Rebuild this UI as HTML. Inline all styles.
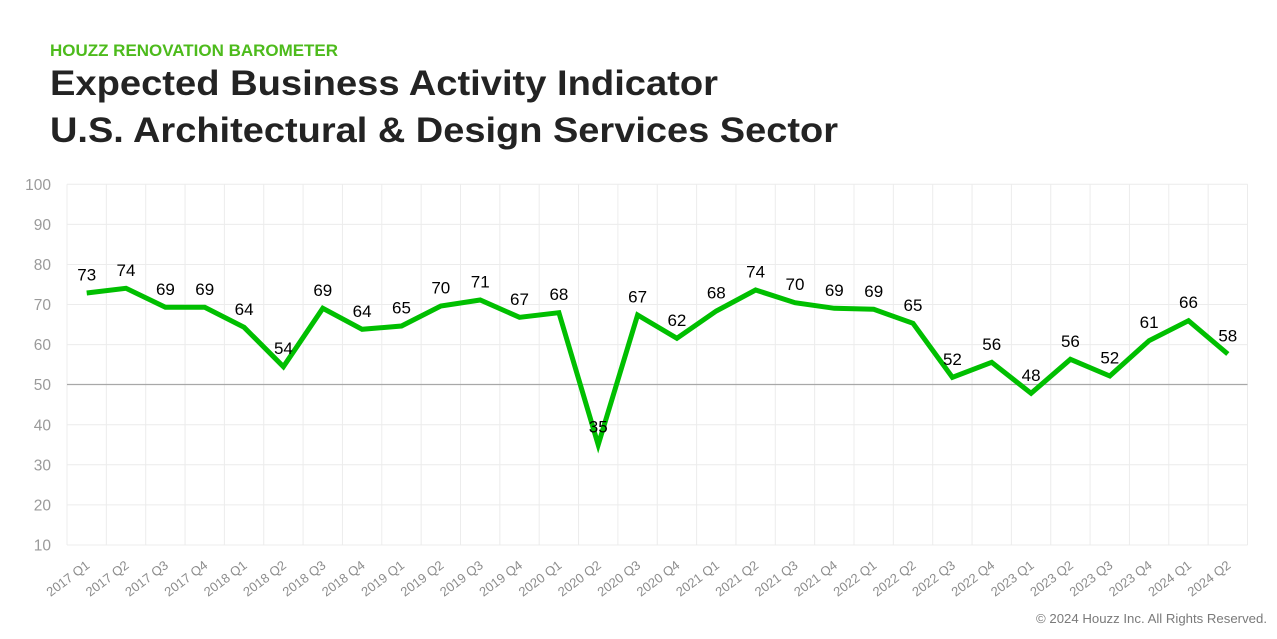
<!DOCTYPE html>
<html><head><meta charset="utf-8"><style>
html,body{margin:0;padding:0;background:#fff;}
svg{display:block;font-family:"Liberation Sans",sans-serif;}
</style></head><body>
<svg width="1277" height="639" viewBox="0 0 1277 639" xmlns="http://www.w3.org/2000/svg">
<rect width="1277" height="639" fill="#fff"/>
<text x="50" y="56" font-size="16.5" font-weight="bold" fill="#4dbb1c" textLength="288" lengthAdjust="spacingAndGlyphs">HOUZZ RENOVATION BAROMETER</text>
<text x="50" y="95" font-size="35" font-weight="bold" fill="#232323" textLength="668" lengthAdjust="spacingAndGlyphs">Expected Business Activity Indicator</text>
<text x="50" y="142" font-size="35" font-weight="bold" fill="#232323" textLength="788" lengthAdjust="spacingAndGlyphs">U.S. Architectural &amp; Design Services Sector</text>
<g stroke="#ececec" stroke-width="1">
<line x1="67" x2="1247.5" y1="545" y2="545"/>
<line x1="67" x2="1247.5" y1="504.9" y2="504.9"/>
<line x1="67" x2="1247.5" y1="464.8" y2="464.8"/>
<line x1="67" x2="1247.5" y1="424.8" y2="424.8"/>
<line x1="67" x2="1247.5" y1="344.6" y2="344.6"/>
<line x1="67" x2="1247.5" y1="304.5" y2="304.5"/>
<line x1="67" x2="1247.5" y1="264.5" y2="264.5"/>
<line x1="67" x2="1247.5" y1="224.4" y2="224.4"/>
<line x1="67" x2="1247.5" y1="184.3" y2="184.3"/>
<line x1="67" x2="67" y1="184.3" y2="545"/>
<line x1="106.35" x2="106.35" y1="184.3" y2="545"/>
<line x1="145.7" x2="145.7" y1="184.3" y2="545"/>
<line x1="185.05" x2="185.05" y1="184.3" y2="545"/>
<line x1="224.4" x2="224.4" y1="184.3" y2="545"/>
<line x1="263.75" x2="263.75" y1="184.3" y2="545"/>
<line x1="303.1" x2="303.1" y1="184.3" y2="545"/>
<line x1="342.45" x2="342.45" y1="184.3" y2="545"/>
<line x1="381.8" x2="381.8" y1="184.3" y2="545"/>
<line x1="421.15" x2="421.15" y1="184.3" y2="545"/>
<line x1="460.5" x2="460.5" y1="184.3" y2="545"/>
<line x1="499.85" x2="499.85" y1="184.3" y2="545"/>
<line x1="539.2" x2="539.2" y1="184.3" y2="545"/>
<line x1="578.55" x2="578.55" y1="184.3" y2="545"/>
<line x1="617.9" x2="617.9" y1="184.3" y2="545"/>
<line x1="657.25" x2="657.25" y1="184.3" y2="545"/>
<line x1="696.6" x2="696.6" y1="184.3" y2="545"/>
<line x1="735.95" x2="735.95" y1="184.3" y2="545"/>
<line x1="775.3" x2="775.3" y1="184.3" y2="545"/>
<line x1="814.65" x2="814.65" y1="184.3" y2="545"/>
<line x1="854" x2="854" y1="184.3" y2="545"/>
<line x1="893.35" x2="893.35" y1="184.3" y2="545"/>
<line x1="932.7" x2="932.7" y1="184.3" y2="545"/>
<line x1="972.05" x2="972.05" y1="184.3" y2="545"/>
<line x1="1011.4" x2="1011.4" y1="184.3" y2="545"/>
<line x1="1050.75" x2="1050.75" y1="184.3" y2="545"/>
<line x1="1090.1" x2="1090.1" y1="184.3" y2="545"/>
<line x1="1129.45" x2="1129.45" y1="184.3" y2="545"/>
<line x1="1168.8" x2="1168.8" y1="184.3" y2="545"/>
<line x1="1208.15" x2="1208.15" y1="184.3" y2="545"/>
<line x1="1247.5" x2="1247.5" y1="184.3" y2="545"/>
</g>
<line x1="67" x2="1247.5" y1="384.5" y2="384.5" stroke="#a8a8a8" stroke-width="1.2"/>
<g font-size="15.5" fill="#9a9a9a" text-anchor="end">
<text x="51" y="550.5">10</text>
<text x="51" y="510.4">20</text>
<text x="51" y="470.3">30</text>
<text x="51" y="430.3">40</text>
<text x="51" y="390.2">50</text>
<text x="51" y="350.1">60</text>
<text x="51" y="310">70</text>
<text x="51" y="270">80</text>
<text x="51" y="229.9">90</text>
<text x="51" y="189.8">100</text>
</g>
<polyline fill="none" stroke="#00bf00" stroke-width="5" stroke-linejoin="miter" stroke-miterlimit="10" points="86.7,293 126,288.3 165.4,307.3 204.7,307.3 244.1,327.3 283.4,366.7 322.8,308.3 362.1,329.3 401.5,326 440.8,306 480.2,300 519.5,317.3 558.9,312.7 598.2,444.8 637.6,315 676.9,338.3 716.3,311 755.6,290 795,302.7 834.3,308.3 873.7,309.3 913,323.3 952.4,377.3 991.7,362.3 1031.1,393.3 1070.4,359.3 1109.8,376 1149.1,340.7 1188.5,320.7 1227.8,354"/>
<g font-size="17" fill="#000" text-anchor="middle">
<text x="86.7" y="280.5">73</text>
<text x="126" y="275.8">74</text>
<text x="165.4" y="294.8">69</text>
<text x="204.7" y="294.8">69</text>
<text x="244.1" y="314.8">64</text>
<text x="283.4" y="354.2">54</text>
<text x="322.8" y="295.8">69</text>
<text x="362.1" y="316.8">64</text>
<text x="401.5" y="313.5">65</text>
<text x="440.8" y="293.5">70</text>
<text x="480.2" y="287.5">71</text>
<text x="519.5" y="304.8">67</text>
<text x="558.9" y="300.2">68</text>
<text x="598.2" y="432.3">35</text>
<text x="637.6" y="302.5">67</text>
<text x="676.9" y="325.8">62</text>
<text x="716.3" y="298.5">68</text>
<text x="755.6" y="277.5">74</text>
<text x="795" y="290.2">70</text>
<text x="834.3" y="295.8">69</text>
<text x="873.7" y="296.8">69</text>
<text x="913" y="310.8">65</text>
<text x="952.4" y="364.8">52</text>
<text x="991.7" y="349.8">56</text>
<text x="1031.1" y="380.8">48</text>
<text x="1070.4" y="346.8">56</text>
<text x="1109.8" y="363.5">52</text>
<text x="1149.1" y="328.2">61</text>
<text x="1188.5" y="308.2">66</text>
<text x="1227.8" y="341.5">58</text>
</g>
<g font-size="13" fill="#8c8c8c" text-anchor="end">
<text transform="translate(90.5,567) rotate(-37)">2017 Q1</text>
<text transform="translate(129.8,567) rotate(-37)">2017 Q2</text>
<text transform="translate(169.2,567) rotate(-37)">2017 Q3</text>
<text transform="translate(208.5,567) rotate(-37)">2017 Q4</text>
<text transform="translate(247.9,567) rotate(-37)">2018 Q1</text>
<text transform="translate(287.2,567) rotate(-37)">2018 Q2</text>
<text transform="translate(326.6,567) rotate(-37)">2018 Q3</text>
<text transform="translate(365.9,567) rotate(-37)">2018 Q4</text>
<text transform="translate(405.3,567) rotate(-37)">2019 Q1</text>
<text transform="translate(444.6,567) rotate(-37)">2019 Q2</text>
<text transform="translate(484,567) rotate(-37)">2019 Q3</text>
<text transform="translate(523.3,567) rotate(-37)">2019 Q4</text>
<text transform="translate(562.7,567) rotate(-37)">2020 Q1</text>
<text transform="translate(602,567) rotate(-37)">2020 Q2</text>
<text transform="translate(641.4,567) rotate(-37)">2020 Q3</text>
<text transform="translate(680.7,567) rotate(-37)">2020 Q4</text>
<text transform="translate(720.1,567) rotate(-37)">2021 Q1</text>
<text transform="translate(759.4,567) rotate(-37)">2021 Q2</text>
<text transform="translate(798.8,567) rotate(-37)">2021 Q3</text>
<text transform="translate(838.1,567) rotate(-37)">2021 Q4</text>
<text transform="translate(877.5,567) rotate(-37)">2022 Q1</text>
<text transform="translate(916.8,567) rotate(-37)">2022 Q2</text>
<text transform="translate(956.2,567) rotate(-37)">2022 Q3</text>
<text transform="translate(995.5,567) rotate(-37)">2022 Q4</text>
<text transform="translate(1034.9,567) rotate(-37)">2023 Q1</text>
<text transform="translate(1074.2,567) rotate(-37)">2023 Q2</text>
<text transform="translate(1113.6,567) rotate(-37)">2023 Q3</text>
<text transform="translate(1152.9,567) rotate(-37)">2023 Q4</text>
<text transform="translate(1192.3,567) rotate(-37)">2024 Q1</text>
<text transform="translate(1231.6,567) rotate(-37)">2024 Q2</text>
</g>
<text x="1267" y="623" font-size="13" fill="#7a7a7a" text-anchor="end" textLength="231" lengthAdjust="spacingAndGlyphs">© 2024 Houzz Inc. All Rights Reserved.</text>
</svg>
</body></html>
